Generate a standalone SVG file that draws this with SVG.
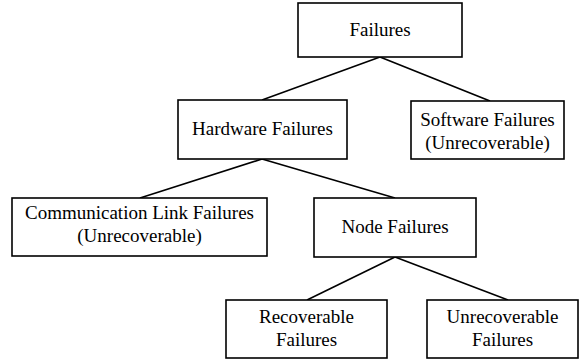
<svg xmlns="http://www.w3.org/2000/svg" width="579" height="359" viewBox="0 0 579 359">
<style>
rect{fill:#fff;stroke:#000;stroke-width:1.6}
line{stroke:#000;stroke-width:1.6}
text{font-family:"Liberation Serif",serif;font-size:19px;fill:#000;text-anchor:middle}
</style>
<rect x="0" y="0" width="579" height="359" style="stroke:none"/>
<g id="connectors">
<line x1="380" y1="57" x2="262" y2="100"/>
<line x1="380" y1="57" x2="490" y2="101"/>
<line x1="262" y1="159" x2="140" y2="198"/>
<line x1="262" y1="159" x2="395" y2="198"/>
<line x1="395" y1="257" x2="307" y2="300"/>
<line x1="395" y1="257" x2="508" y2="300"/>
</g>
<g id="failures"><rect x="298" y="3" width="164" height="54"/><text x="380" y="36">Failures</text></g>
<g id="hardware"><rect x="178" y="100" width="169" height="59"/><text x="262.5" y="135">Hardware Failures</text></g>
<g id="software"><rect x="411" y="101" width="153" height="58"/><text x="487.5" y="126">Software Failures</text><text x="487.5" y="149">(Unrecoverable)</text></g>
<g id="comm"><rect x="12" y="198" width="255" height="58"/><text x="139.5" y="219">Communication Link Failures</text><text x="139.5" y="242">(Unrecoverable)</text></g>
<g id="node"><rect x="314" y="198" width="162" height="59"/><text x="395" y="233">Node Failures</text></g>
<g id="recoverable"><rect x="226" y="300" width="161" height="58"/><text x="306.5" y="323">Recoverable</text><text x="306.5" y="346">Failures</text></g>
<g id="unrecoverable"><rect x="427" y="300" width="151" height="58"/><text x="502.5" y="323">Unrecoverable</text><text x="502.5" y="346">Failures</text></g>
</svg>
